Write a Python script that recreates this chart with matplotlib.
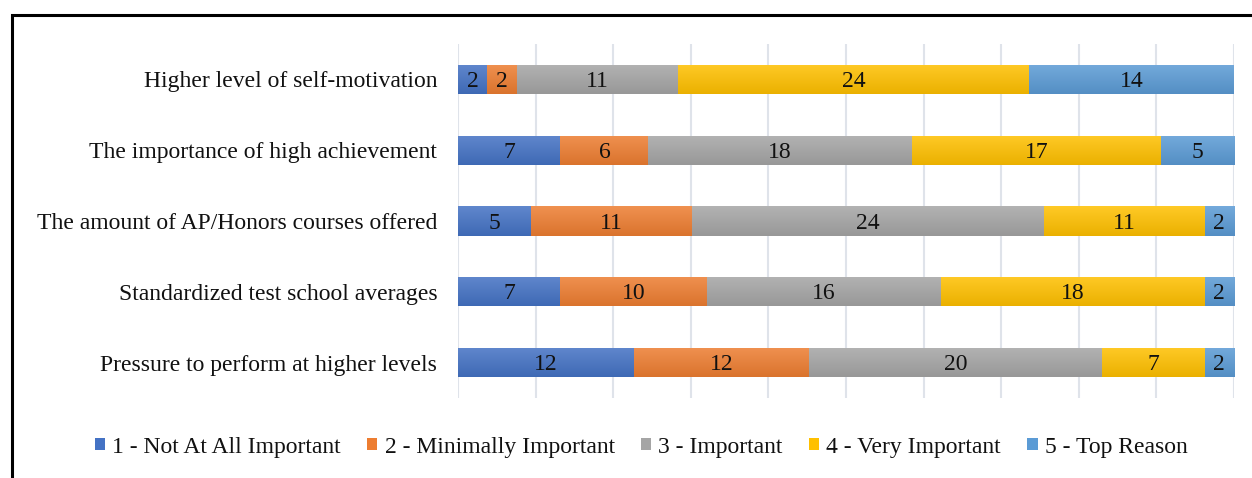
import numpy as np
import matplotlib
matplotlib.use("Agg")
import matplotlib.pyplot as plt
from matplotlib.patches import Rectangle
from matplotlib.colors import to_rgb

plt.rcParams['font.family'] = ['Liberation Serif', 'DejaVu Serif']

categories = [
    "Higher level of self-motivation",
    "The importance of high achievement",
    "The amount of AP/Honors courses offered",
    "Standardized test school averages",
    "Pressure to perform at higher levels",
]
series_names = [
    "1 - Not At All Important",
    "2 - Minimally Important",
    "3 - Important",
    "4 - Very Important",
    "5 - Top Reason",
]
not_at_all = [2, 7, 5, 7, 12]
minimally = [2, 6, 11, 10, 12]
important = [11, 18, 24, 16, 20]
very_important = [24, 17, 11, 18, 7]
top_reason = [14, 5, 2, 2, 2]

series = [not_at_all, minimally, important, very_important, top_reason]
colors = ["#4472C4", "#ED7D31", "#A5A5A5", "#FFC000", "#5B9BD5"]

W, H = 1252, 478
fig = plt.figure(figsize=(W / 100, H / 100), dpi=100)
ax = fig.add_axes([458 / W, 1 - 398 / H, (1234 - 458) / W, (398 - 44) / H])

y = np.arange(len(categories))
total = np.sum(series, axis=0)
xmax = total.max()


def shade(c, f):
    r = np.array(to_rgb(c))
    if f >= 0:
        return r + (1 - r) * f
    return r * (1 + f)


left = np.zeros(len(categories))
bar_h = 0.41
for vals, col, name in zip(series, colors, series_names):
    bars = ax.barh(y, vals, left=left, height=bar_h, color=col, label=name,
                   edgecolor='none', zorder=2)
    top_c = shade(col, 0.15)
    bot_c = shade(col, -0.08)
    grad = np.linspace(0, 1, 64)[:, None, None]
    img = top_c[None, None, :] * (1 - grad) + bot_c[None, None, :] * grad
    for b, v in zip(bars, vals):
        x0, y0 = b.get_x(), b.get_y()
        w, h = b.get_width(), b.get_height()
        im = ax.imshow(img, extent=(x0, x0 + w, y0 + h, y0), aspect='auto',
                       zorder=2.5, interpolation='bilinear')
        im.set_clip_path(b)
        ax.text(x0 + w / 2, y0 + h / 2 + 0.03, str(v), ha='center', va='center',
                fontsize=17, color='#111111', zorder=3)
    left += np.array(vals)

ax.set_xlim(0, xmax)
ax.set_ylim(len(categories) - 0.5, -0.5)
ax.set_xticks(np.linspace(0, xmax, 11))
ax.tick_params(axis='x', length=0, labelbottom=False)
ax.tick_params(axis='y', length=0, pad=15, labelsize=17, labelcolor='#111111')
ax.set_yticks(y)
ax.set_yticklabels(categories)
ax.grid(axis='x', color='#DFE3EA', linewidth=1.5, zorder=0)
ax.set_axisbelow(True)
for s in ax.spines.values():
    s.set_visible(False)

handles, labels = ax.get_legend_handles_labels()
leg = fig.legend(handles, labels, loc='center',
                 bbox_to_anchor=(641 / W, 1 - 447 / H),
                 ncol=5, frameon=False, fontsize=17, handlelength=0.45,
                 handleheight=0.45, handletextpad=0.3, columnspacing=1.1)
for t in leg.get_texts():
    t.set_color('#111111')

fig.add_artist(Rectangle((11.5 / W, -0.1), 1.2, 1 - 15 / H + 0.1,
                         transform=fig.transFigure, fill=False,
                         edgecolor='black', linewidth=2.2))

fig.savefig("out.png", dpi=100)
